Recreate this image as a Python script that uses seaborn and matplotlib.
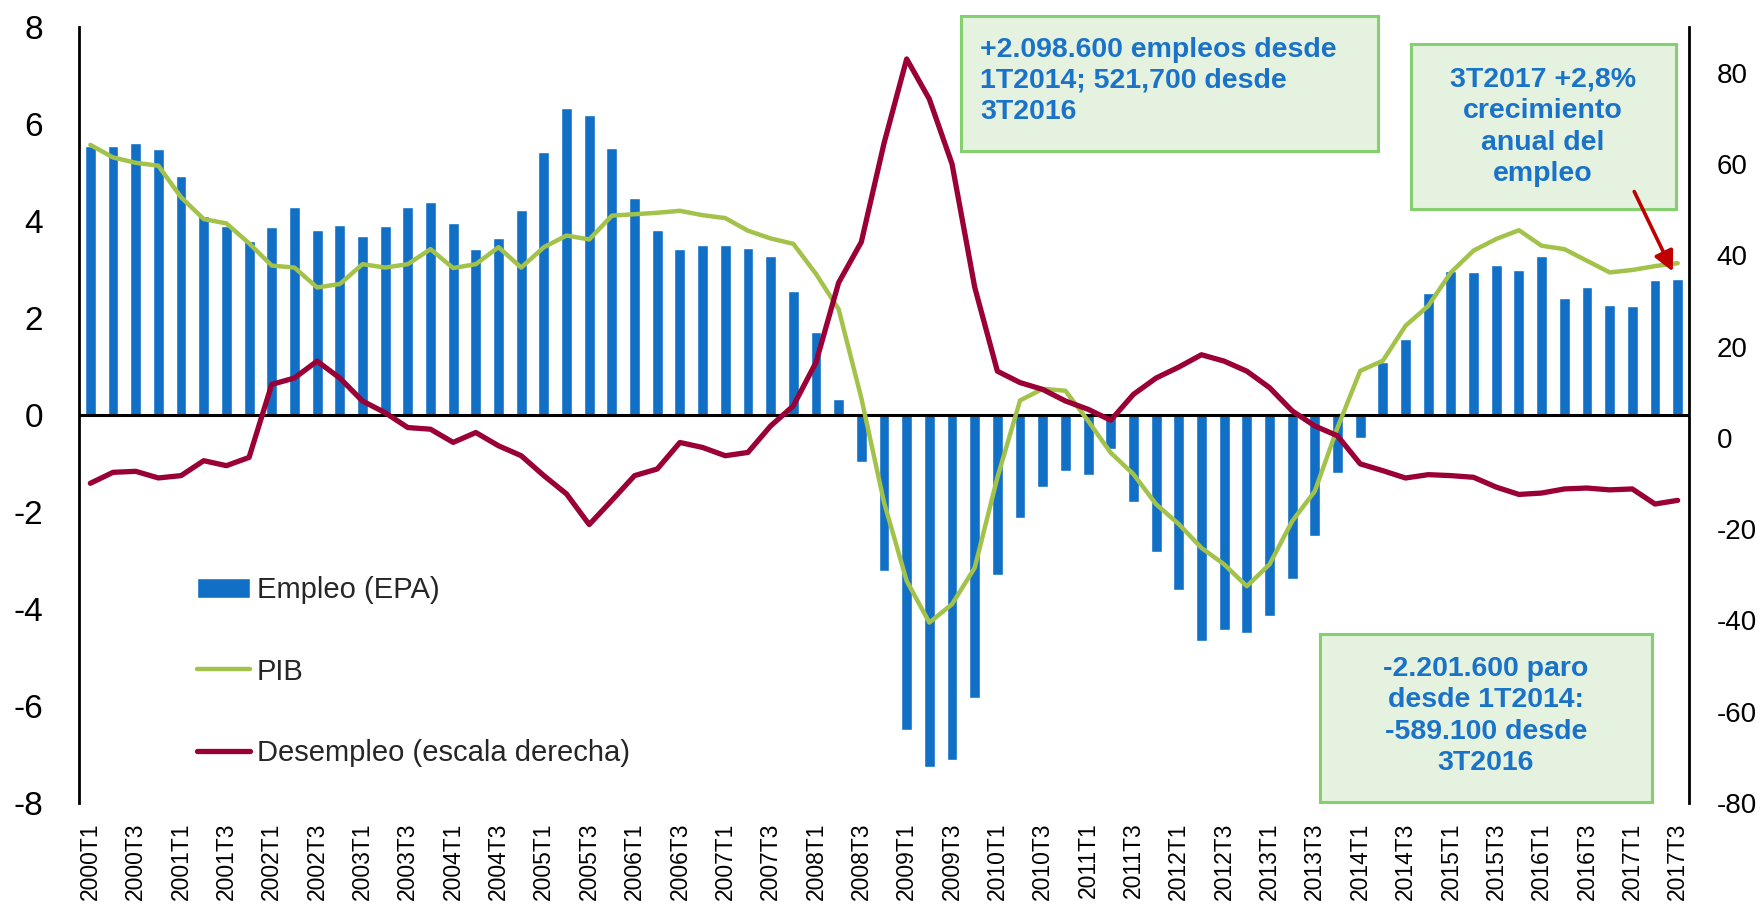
import numpy as np
import pandas as pd
import matplotlib
matplotlib.use("Agg")
import matplotlib.pyplot as plt
import seaborn as sns
from matplotlib.patches import Rectangle, FancyArrowPatch

# ---------------- data ----------------
quarters = [f"{y}T{q}" for y in range(2000, 2018) for q in range(1, 5)][:71]

empleo = [5.54, 5.55, 5.61, 5.49, 4.93, 4.11, 3.89, 3.58, 3.88, 4.28,
          3.82, 3.92, 3.69, 3.90, 4.28, 4.39, 3.96, 3.42, 3.64, 4.22,
          5.42, 6.33, 6.19, 5.50, 4.48, 3.81, 3.43, 3.51, 3.51, 3.45,
          3.28, 2.56, 1.72, 0.32, -0.97, -3.22, -6.50, -7.25, -7.11, -5.83,
          -3.30, -2.12, -1.48, -1.15, -1.23, -0.71, -1.79, -2.82, -3.61, -4.65,
          -4.44, -4.50, -4.15, -3.39, -2.49, -1.19, -0.48, 1.10, 1.57, 2.52,
          2.96, 2.95, 3.09, 2.98, 3.28, 2.42, 2.63, 2.27, 2.25, 2.79,
          2.81]

pib = [5.57, 5.31, 5.20, 5.14, 4.49, 4.04, 3.95, 3.54, 3.08, 3.04,
       2.63, 2.70, 3.11, 3.04, 3.11, 3.42, 3.03, 3.11, 3.46, 3.04,
       3.46, 3.70, 3.62, 4.11, 4.14, 4.17, 4.21, 4.12, 4.06, 3.80,
       3.64, 3.53, 2.91, 2.18, 0.35, -1.80, -3.42, -4.28, -3.90, -3.15,
       -1.29, 0.30, 0.54, 0.50, -0.12, -0.78, -1.22, -1.84, -2.25, -2.74,
       -3.08, -3.53, -3.08, -2.19, -1.57, -0.26, 0.91, 1.12, 1.84, 2.25,
       2.94, 3.39, 3.63, 3.81, 3.49, 3.42, 3.18, 2.94, 2.99, 3.07,
       3.13]

desempleo = [-9.96, -7.56, -7.34, -8.79, -8.28, -5.01, -6.10, -4.29, 11.7, 13.1,
             16.8, 13.1, 8.07, 5.5, 2.25, 1.89, -1.0, 1.16, -1.74, -3.92,
             -8.28, -12.3, -19.0, -13.7, -8.28, -6.83, -1.02, -2.11, -3.92, -3.2,
             2.6, 7.0, 16.5, 34.0, 42.9, 64.5, 83.0, 74.2, 60.0, 33.0,
             14.6, 12.1, 10.6, 8.07, 6.25, 3.85, 9.52, 13.1, 15.5, 18.2,
             16.8, 14.6, 11.0, 5.9, 2.6, 0.44, -5.7, -7.2, -8.8, -8.07,
             -8.28, -8.65, -10.8, -12.4, -12.1, -11.2, -11.0, -11.4, -11.2, -14.5,
             -13.7]

left_ticks = [-8, -6, -4, -2, 0, 2, 4, 6, 8]
right_ticks = [-80, -60, -40, -20, 0, 20, 40, 60, 80]

label_empleo = "Empleo (EPA)"
label_pib = "PIB"
label_des = "Desempleo (escala derecha)"

note1 = "+2.098.600 empleos desde\n1T2014; 521,700 desde\n3T2016"
note2 = "3T2017 +2,8%\ncrecimiento\nanual del\nempleo"
note3 = "-2.201.600 paro\ndesde 1T2014:\n-589.100 desde\n3T2016"

df = pd.DataFrame({"pos": np.arange(len(quarters)), "trim": quarters,
                   "empleo": empleo, "pib": pib, "desempleo": desempleo})

# ---------------- style ----------------
sns.set_theme(style="white")
plt.rcParams["font.family"] = ["Liberation Sans", "DejaVu Sans"]
plt.rcParams["axes.unicode_minus"] = False

W, H = 1760, 905
BAR = "#1170C6"
GREEN = "#A3C24A"
RED = "#9A0036"
TXT = "#1A73C8"

fig = plt.figure(figsize=(W / 100, H / 100), dpi=100)
L, R, T, B = 79, 1689, 27, 803
ax = fig.add_axes([L / W, 1 - B / H, (R - L) / W, (B - T) / H])
ax2 = ax.twinx()

sns.barplot(data=df, x="pos", y="empleo", native_scale=True, width=0.48,
            color=BAR, saturation=1, ax=ax, label=label_empleo, zorder=2)
ax.axhline(0, color="black", lw=2.2, zorder=3)
sns.lineplot(data=df, x="pos", y="pib", color=GREEN, lw=3.2, ax=ax,
             label=label_pib, zorder=4)
sns.lineplot(data=df, x="pos", y="desempleo", color=RED, lw=3.8, ax=ax2,
             label=label_des, zorder=5)

for a in (ax, ax2):
    if a.get_legend() is not None:
        a.get_legend().remove()
    a.set_xlabel("")
    a.set_ylabel("")
    a.grid(False)
    for s in ("top", "bottom"):
        a.spines[s].set_visible(False)

ax.set_xlim(-0.5, len(quarters) - 0.5)
ax.set_ylim(-8, 8)
ax2.set_ylim(-80, 90)

ax.set_yticks(left_ticks)
ax.set_yticklabels([str(v) for v in left_ticks])
ax2.set_yticks(right_ticks)
ax2.set_yticklabels([str(v) for v in right_ticks])
ax.set_xticks(df["pos"][::2])
ax.set_xticklabels(df["trim"][::2], rotation=90)

ax.tick_params(axis="y", length=0, pad=26, labelsize=24, labelcolor="black")
ax2.tick_params(axis="y", length=0, pad=20, labelsize=20, labelcolor="black")
ax.tick_params(axis="x", length=0, pad=14, labelsize=16.5, labelcolor="black")

ax.spines["left"].set_color("black")
ax.spines["left"].set_linewidth(2)
ax2.spines["right"].set_color("black")
ax2.spines["right"].set_linewidth(2)
ax2.spines["left"].set_visible(False)
ax.spines["right"].set_visible(False)

# legend: Empleo, PIB, Desempleo
h1, l1 = ax.get_legend_handles_labels()
h2, l2 = ax2.get_legend_handles_labels()
hmap = dict(zip(l1 + l2, h1 + h2))
order = [label_empleo, label_pib, label_des]
fig.legend([hmap[k] for k in order], order, loc="upper left",
           bbox_to_anchor=(197 / W, 1 - 576 / H), frameon=False,
           fontsize=21, labelspacing=1.84, handlelength=1.8,
           handletextpad=0.25, borderpad=0, borderaxespad=0)


def fx(px):
    return px / W


def fy(py):
    return 1 - py / H


def box(x0, y0, x1, y1):
    fig.patches.append(Rectangle((fx(x0), fy(y1)), fx(x1) - fx(x0), fy(y0) - fy(y1),
                                 transform=fig.transFigure, facecolor="#E4F2DF",
                                 edgecolor="#84CF6E", lw=2.2, zorder=10))


box(961, 16, 1378, 151)
fig.text(fx(980), fy(81), note1, ha="left", va="center", fontsize=20.5,
         fontweight="bold", color=TXT, linespacing=1.27, zorder=11)

box(1411, 44, 1676, 209)
fig.text(fx(1543), fy(127), note2, ha="center", va="center", fontsize=20.5,
         fontweight="bold", color=TXT, linespacing=1.27, zorder=11)

box(1320, 634, 1652, 802)
fig.text(fx(1486), fy(716), note3, ha="center", va="center", fontsize=20.5,
         fontweight="bold", color=TXT, linespacing=1.27, zorder=11)

arrow = FancyArrowPatch((fx(1633), fy(189)), (fx(1674), fy(274)),
                        transform=fig.transFigure, arrowstyle="-|>",
                        mutation_scale=30, color="#C00000", lw=2.6, zorder=12)
fig.patches.append(arrow)

fig.savefig("out.png", dpi=100)
